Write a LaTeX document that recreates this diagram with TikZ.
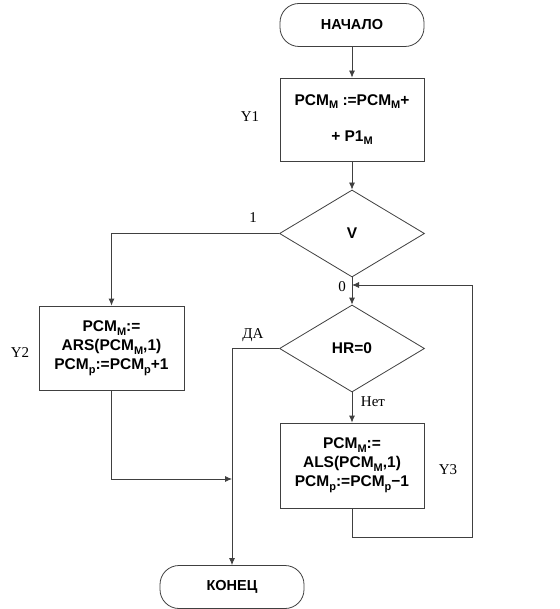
\documentclass[tikz,border=0pt]{standalone}
\usepackage{fontspec}
\setmainfont{Liberation Sans}
\newfontfamily\lblfont{Liberation Serif}
\usetikzlibrary{shapes.geometric,arrows.meta}
\newcommand\sbs[1]{\raisebox{-0.45ex}{\fontsize{11}{11}\selectfont #1}}
\begin{document}
\begin{tikzpicture}[x=1pt,y=-1pt,
  every node/.style={inner sep=0pt},
  conn/.style={draw=black!75,line width=0.8pt},
  arr/.style={conn,-{Latex[length=7pt,width=6pt]}},
  termbox/.style={draw=black!75,line width=0.8pt,rounded corners=19pt,minimum width=144pt,minimum height=43pt,font=\bfseries\fontsize{14.5}{16}\selectfont},
  procbox/.style={draw=black!75,line width=0.8pt,minimum width=144pt,align=center,font=\bfseries\fontsize{15.5}{19}\selectfont},
  decbox/.style={draw=black!75,line width=0.8pt,diamond,minimum width=145pt,minimum height=87pt,font=\bfseries\fontsize{15.5}{16}\selectfont},
  lbl/.style={font=\lblfont\fontsize{15}{16}\selectfont}
]
\useasboundingbox (0,0) rectangle (559,609);
\fill[white] (0,0) rectangle (559,609);

\node[termbox] (start) at (352,25) {НАЧАЛО};
\node[procbox,minimum height=83pt] (y1) at (352,119.5) {PCM\sbs{M} :=PCM\sbs{M}+\\[17pt]+ P1\sbs{M}};
\node[decbox] (v) at (352,233.5) {V};
\node[procbox,minimum width=145pt,minimum height=84pt] (y2) at (111.5,348) {PCM\sbs{M}:=\\ARS(PCM\sbs{M},1)\\PCM\sbs{p}:=PCM\sbs{p}+1};
\node[decbox] (hr) at (352,348.5) {HR=0};
\node[procbox,minimum height=85pt] (y3) at (352,465.5) {PCM\sbs{M}:=\\ALS(PCM\sbs{M},1)\\PCM\sbs{p}:=PCM\sbs{p}−1};
\node[termbox] (end) at (232,587) {КОНЕЦ};

\coordinate (loopB) at (352,537);
\coordinate (loopR) at (472,285);
\coordinate (loopT) at (352,285);
\coordinate (y2B) at (111.5,479);

\draw[arr] (start) -- (y1);
\draw[arr] (y1) -- (v);
\draw[arr] (v.west) -| (y2.north);
\draw[arr] (v.south) -- (hr.north);
\draw[arr] (hr.south) -- (y3.north);
\draw[arr] (y3.south) -- (loopB) -| (loopR) -- (loopT);
\draw[arr] (hr.west) -- (hr.west -| end.north) -- (end.north);
\draw[arr] (y2.south) -- (y2B) -- (y2B -| end.north);

\node[lbl] (l1) at (253,218) {1};
\node[lbl] (l0) at (342,287) {0};
\node[lbl] (lda) at (253,335) {ДА};
\node[lbl] (lnet) at (373,402) {Нет};
\node[lbl] (ly1) at (250,117) {Y1};
\node[lbl] (ly2) at (20,353) {Y2};
\node[lbl] (ly3) at (448,470) {Y3};
\end{tikzpicture}
\end{document}
